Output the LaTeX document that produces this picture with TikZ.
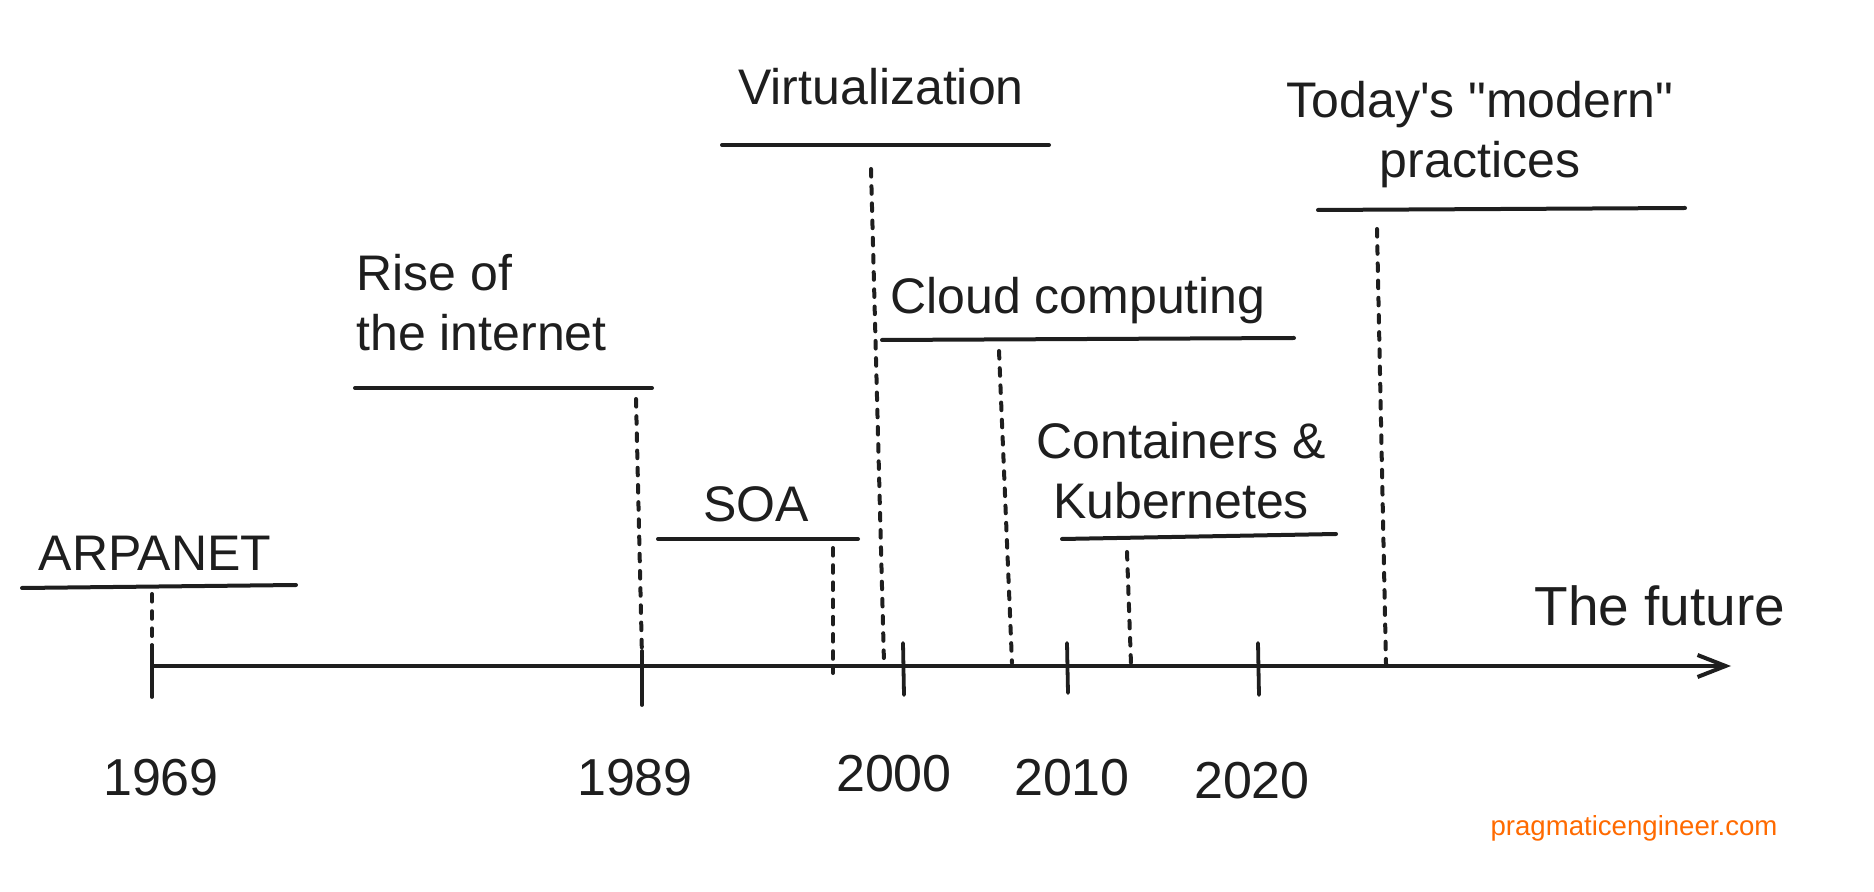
\documentclass[tikz,border=0pt]{standalone}
\usepackage{fontspec}
\setmainfont{Liberation Sans}
\usetikzlibrary{arrows.meta}
\definecolor{ink}{HTML}{1E1E1E}
\definecolor{pe}{HTML}{FF6A00}
\begin{document}
\begin{tikzpicture}[x=0.5pt,y=-0.5pt,
  hand/.style={font=\fontsize{25}{30}\selectfont, inner sep=0pt, text=ink},
  year/.style={hand, font=\fontsize{26}{30}\selectfont, anchor=base},
  solidline/.style={line width=2pt, draw=ink, line cap=round},
  dashline/.style={line width=2pt, draw=ink, dash pattern=on 3.8pt off 4.8pt, line cap=round},
  tickline/.style={line width=1.9pt, draw=ink, line cap=round},
  ]
\useasboundingbox (0,0) rectangle (1874,892);

% axis
\coordinate (axs) at (152,666);
\coordinate (axe) at (1731,666);
\draw[solidline, -{Straight Barb[length=14pt,width=11pt]}] (axs) -- (axe);

% ticks
\coordinate (k1a) at (152,645); \coordinate (k1b) at (152,697);
\coordinate (k2a) at (642,651); \coordinate (k2b) at (642,705);
\coordinate (k3a) at (903,643); \coordinate (k3b) at (904,695);
\coordinate (k4a) at (1067,643); \coordinate (k4b) at (1068,693);
\coordinate (k5a) at (1258,643); \coordinate (k5b) at (1259,695);
\draw[tickline] (k1a) -- (k1b);
\draw[tickline] (k2a) -- (k2b);
\draw[tickline] (k3a) -- (k3b);
\draw[tickline] (k4a) -- (k4b);
\draw[tickline] (k5a) -- (k5b);

% years
\node[year] (y1969) at (161,795) {1969};
\node[year] (y1989) at (635,795) {1989};
\node[year] (y2000) at (894,791) {2000};
\node[year] (y2010) at (1072,795) {2010};
\node[year] (y2020) at (1252,798) {2020};

% ARPANET
\node[hand, anchor=base] (arpa) at (155,571) {ARPANET};
\coordinate (arpaL) at (22,588); \coordinate (arpaR) at (296,585);
\draw[solidline] (arpaL) -- (arpaR);
\coordinate (arpaD1) at (152,594); \coordinate (arpaD2) at (152,664);
\draw[dashline] (arpaD1) -- (arpaD2);

% Rise of the internet
\node[hand, anchor=north west, align=left] (rise) at (356,254) {Rise of\\the internet};
\coordinate (riseL) at (355,388); \coordinate (riseR) at (652,388);
\draw[solidline] (riseL) -- (riseR);
\coordinate (riseD1) at (636,399); \coordinate (riseD2) at (642,657);
\draw[dashline] (riseD1) -- (riseD2);

% SOA
\node[hand, anchor=base] (soa) at (756,522) {SOA};
\coordinate (soaL) at (658,539); \coordinate (soaR) at (858,539);
\draw[solidline] (soaL) -- (soaR);
\coordinate (soaD1) at (833,548); \coordinate (soaD2) at (833,673);
\draw[dashline] (soaD1) -- (soaD2);

% Virtualization
\node[hand, anchor=base] (virt) at (881,105) {Virtualization};
\coordinate (virtL) at (722,145); \coordinate (virtR) at (1049,145);
\draw[solidline] (virtL) -- (virtR);
\coordinate (virtD1) at (871,169); \coordinate (virtD2) at (884,663);
\draw[dashline] (virtD1) -- (virtD2);

% Cloud computing
\node[hand, anchor=base] (cloud) at (1078,314) {Cloud computing};
\coordinate (cloudL) at (882,340); \coordinate (cloudR) at (1294,338);
\draw[solidline] (cloudL) -- (cloudR);
\coordinate (cloudD1) at (999,351); \coordinate (cloudD2) at (1012,663);
\draw[dashline] (cloudD1) -- (cloudD2);

% Containers & Kubernetes
\node[hand, anchor=north, align=center] (cont) at (1181,422) {Containers \&\\Kubernetes};
\coordinate (contL) at (1062,539); \coordinate (contR) at (1336,534);
\draw[solidline] (contL) -- (contR);
\coordinate (contD1) at (1127,552); \coordinate (contD2) at (1131,664);
\draw[dashline] (contD1) -- (contD2);

% Today's modern practices
\node[hand, anchor=north, align=center] (today) at (1480,81) {Today\textquotesingle s \textquotedbl modern\textquotedbl\\practices};
\coordinate (todayL) at (1318,210); \coordinate (todayR) at (1685,208);
\draw[solidline] (todayL) -- (todayR);
\coordinate (todayD1) at (1377,229); \coordinate (todayD2) at (1386,664);
\draw[dashline] (todayD1) -- (todayD2);

% The future
\node[hand, font=\fontsize{27.5}{30}\selectfont, anchor=base] (future) at (1660,625) {The future};

% credit
\node[inner sep=0pt, anchor=base, text=pe, font=\fontsize{13.8}{16}\selectfont] (credit) at (1634,835) {pragmaticengineer.com};
\end{tikzpicture}
\end{document}
